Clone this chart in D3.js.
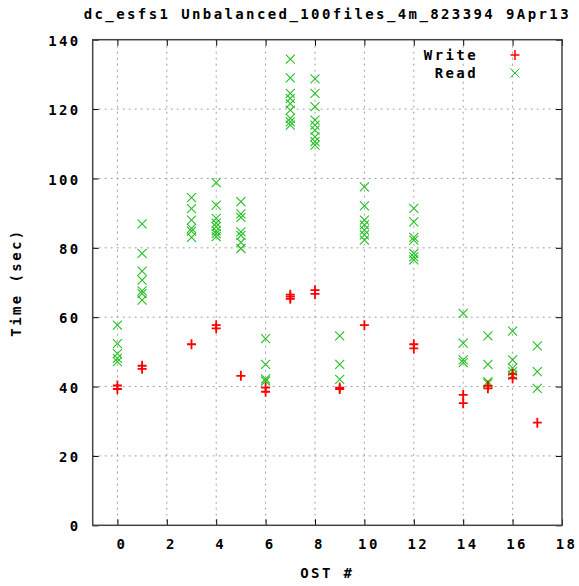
<!DOCTYPE html>
<html>
<head>
<meta charset="utf-8">
<script src="https://cdn.jsdelivr.net/npm/d3@7"></script>
<style>
  body { margin: 0; background: #fff; }
  text { font-family: "DejaVu Sans Mono", monospace; font-size: 14px; letter-spacing: 2.4px; fill: #000; }
</style>
</head>
<body>
<div id="chart"></div>
<script>
var title = 'dc_esfs1 Unbalanced_100files_4m_823394 9Apr13';

// OST indices and the times measured on each
var osts = [0, 1, 3, 4, 5, 6, 7, 8, 9, 10, 12, 14, 15, 16, 17];

var writeTimes = [
  [39.3, 40.3],
  [45.1, 46.0],
  [52.2],
  [57.7, 56.8],
  [43.1],
  [39.7, 38.5],
  [65.3, 65.9, 66.5],
  [67.8, 66.7],
  [39.7, 39.3],
  [57.7],
  [52.2, 51.0],
  [37.6, 35.2],
  [40.2, 39.5],
  [43.6, 42.4],
  [29.6]
];

var readTimes = [
  [57.7, 52.4, 49.5, 48.1, 47.2],
  [86.9, 78.4, 73.3, 70.7, 67.6, 66.8, 64.9],
  [94.5, 91.3, 88.0, 85.6, 84.8, 83.0],
  [98.8, 92.3, 88.5, 87.1, 86.1, 84.9, 84.1, 83.2],
  [93.3, 89.8, 88.8, 84.6, 83.6, 81.6, 79.8],
  [53.8, 46.4, 42.2, 41.6],
  [134.4, 129.0, 124.5, 123.1, 121.6, 119.7, 117.3, 116.3, 115.4],
  [128.7, 124.5, 120.7, 116.8, 115.4, 113.9, 112.0, 110.6, 109.6],
  [54.6, 46.4, 42.1],
  [97.6, 92.1, 88.0, 86.6, 85.1, 83.7, 82.2],
  [91.4, 87.5, 83.0, 82.2, 78.4, 77.4, 76.5],
  [61.1, 52.5, 47.7, 46.9],
  [54.6, 46.4, 41.4, 40.9],
  [56.0, 47.7, 45.3, 44.3, 43.3],
  [51.7, 44.3, 39.5]
];

var xTicks = [0, 2, 4, 6, 8, 10, 12, 14, 16, 18];
var yTicks = [0, 20, 40, 60, 80, 100, 120, 140];

var width = 579, height = 586,
    plotLeft = 92.7, plotRight = 562, plotTop = 39.7, plotBottom = 525.3;

var svg = d3.select('#chart').append('svg')
  .attr('width', width)
  .attr('height', height);

var x = d3.scaleLinear().domain([-1, 18]).range([plotLeft, plotRight]);
var y = d3.scaleLinear().domain([0, 140]).range([plotBottom, plotTop]);

// grid
svg.append('g').selectAll('line')
  .data(xTicks.slice(0, -1))
  .enter().append('line')
  .attr('x1', d => x(d)).attr('x2', d => x(d))
  .attr('y1', plotTop).attr('y2', plotBottom)
  .attr('stroke', '#a0a0a0').attr('stroke-dasharray', '2,4');

svg.append('g').selectAll('line')
  .data(yTicks.slice(1, -1))
  .enter().append('line')
  .attr('x1', plotLeft).attr('x2', plotRight)
  .attr('y1', d => y(d)).attr('y2', d => y(d))
  .attr('stroke', '#a0a0a0').attr('stroke-dasharray', '2,4');

// axes with inward ticks
function styleAxis(g) {
  g.select('.domain').remove();
  g.selectAll('.tick line').attr('stroke', '#000');
  g.selectAll('text').style('font-family', '"DejaVu Sans Mono", monospace')
    .style('font-size', '14px').style('font-weight', 'bold');
}

svg.append('g')
  .attr('transform', 'translate(0,' + plotBottom + ')')
  .call(d3.axisBottom(x).tickValues(xTicks).tickSize(-6).tickPadding(14).tickFormat(d3.format('d')))
  .call(styleAxis)
  .selectAll('text').attr('dx', 4);

svg.append('g')
  .attr('transform', 'translate(0,' + plotTop + ')')
  .call(d3.axisTop(x).tickValues(xTicks).tickSize(-6).tickFormat(''))
  .call(styleAxis);

svg.append('g')
  .attr('transform', 'translate(' + plotLeft + ',0)')
  .call(d3.axisLeft(y).tickValues(yTicks).tickSize(-6).tickPadding(12))
  .call(styleAxis)
  .selectAll('text').attr('dy', '0.4em');

svg.append('g')
  .attr('transform', 'translate(' + plotRight + ',0)')
  .call(d3.axisRight(y).tickValues(yTicks).tickSize(-6).tickFormat(''))
  .call(styleAxis);

// frame
svg.append('rect')
  .attr('x', plotLeft).attr('y', plotTop)
  .attr('width', plotRight - plotLeft).attr('height', plotBottom - plotTop)
  .attr('fill', 'none').attr('stroke', '#444').attr('stroke-width', 1.5);

// points
var writePts = [], readPts = [];
osts.forEach(function(o, i) {
  writeTimes[i].forEach(function(v) { writePts.push([o, v]); });
  readTimes[i].forEach(function(v) { readPts.push([o, v]); });
});

var plusPath = 'M-4.5,0H4.5M0,-5V5';
var crossPath = 'M-4.5,-4.5L4.5,4.5M-4.5,4.5L4.5,-4.5';

svg.append('g').selectAll('path')
  .data(readPts)
  .enter().append('path')
  .attr('transform', d => 'translate(' + x(d[0]) + ',' + y(d[1]) + ')')
  .attr('d', crossPath)
  .attr('stroke', '#22c022').attr('stroke-width', 1.1).attr('fill', 'none');

svg.append('g').selectAll('path')
  .data(writePts)
  .enter().append('path')
  .attr('transform', d => 'translate(' + x(d[0]) + ',' + y(d[1]) + ')')
  .attr('d', plusPath)
  .attr('stroke', '#ff0000').attr('stroke-width', 1.8).attr('fill', 'none');

// legend
var legend = svg.append('g');
[['Write', plusPath, '#ff0000', 1.5], ['Read', crossPath, '#22c022', 1]].forEach(function(l, i) {
  var ly = 55 + i * 18;
  legend.append('text')
    .attr('x', 478).attr('y', ly + 5)
    .attr('text-anchor', 'end')
    .style('font-weight', 'bold')
    .text(l[0]);
  legend.append('path')
    .attr('transform', 'translate(515,' + ly + ')')
    .attr('d', l[1])
    .attr('stroke', l[2]).attr('stroke-width', l[3]).attr('fill', 'none');
});

// titles
svg.append('text')
  .attr('x', (plotLeft + plotRight) / 2).attr('y', 19)
  .attr('text-anchor', 'middle')
  .style('font-weight', 'bold')
  .text(title);

svg.append('text')
  .attr('x', (plotLeft + plotRight) / 2).attr('y', 578)
  .attr('text-anchor', 'middle')
  .style('font-weight', 'bold')
  .text('OST #');

svg.append('text')
  .attr('transform', 'translate(21,' + ((plotTop + plotBottom) / 2) + ') rotate(-90)')
  .attr('text-anchor', 'middle')
  .style('font-weight', 'bold')
  .text('Time (sec)');
</script>
</body>
</html>
